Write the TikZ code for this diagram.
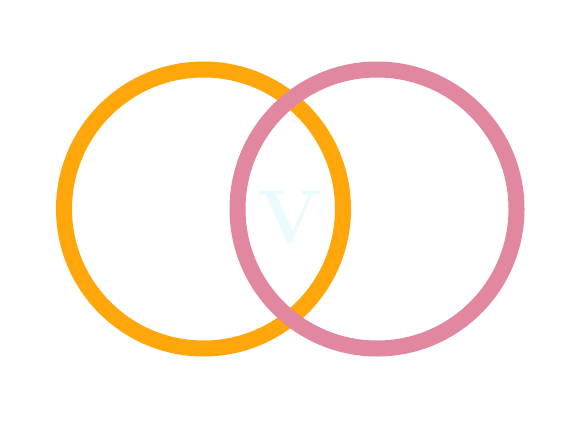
\documentclass[tikz,border=0pt]{standalone}
\usepackage{fontspec}
\begin{document}
\begin{tikzpicture}[x=1pt,y=1pt,
  ring/.style={line width=16pt,draw=#1}]
\definecolor{ringorange}{RGB}{255,166,10}
\definecolor{ringpink}{RGB}{225,136,160}
\definecolor{palecyan}{RGB}{235,250,252}
\useasboundingbox (0,0) rectangle (588,424);
\fill[white] (0,0) rectangle (588,424);
\coordinate (A) at (203.5,215);
\coordinate (B) at (377,215);
\draw[ring=ringorange] (A) circle[radius=139.5];
\draw[ring=ringpink] (B) circle[radius=139.5];
\node[text=palecyan,font=\fontsize{76}{76}\selectfont\bfseries] (v) at (289.5,206) {V};
\end{tikzpicture}
\end{document}
